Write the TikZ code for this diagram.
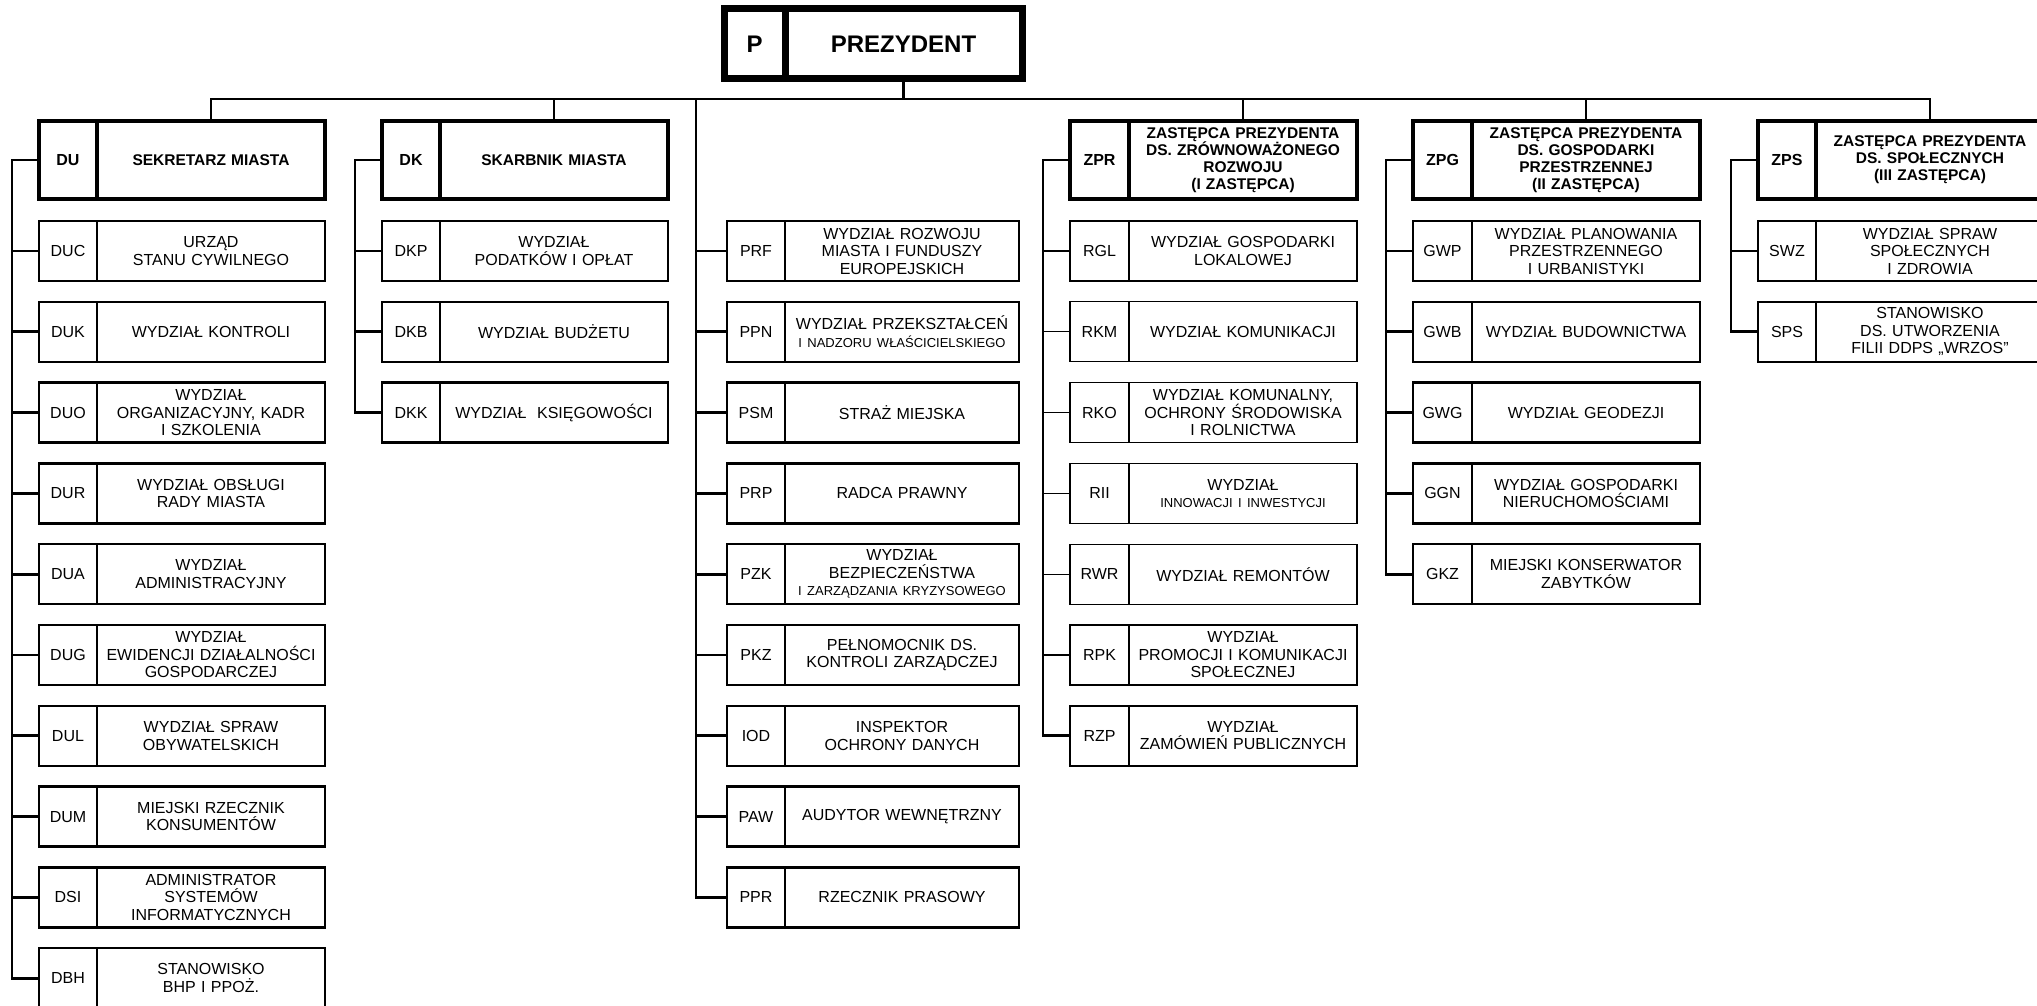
\documentclass[tikz,border=0pt]{standalone}
\usepackage{fontspec}
\setmainfont{Liberation Sans}
\usetikzlibrary{positioning}
\newcommand*\rowgap{80.8}
\newcommand*\spinegap{27}
\newcommand*\smalltxt[1]{{\fontsize{13}{14.5}\selectfont #1}}
\tikzset{
    cell/.style     = {draw, line width=2.4pt, minimum height=60pt,
                      inner sep=0pt, outer sep=0pt, align=center,
                      font=\fontsize{16}{17.5}\selectfont},
    codecell/.style = {cell, minimum width=58pt},
    namecell/.style = {cell, inner xsep=3pt, text width=222pt},
    headcode/.style = {codecell, line width=4.5pt, minimum height=78pt,
                      font=\bfseries\fontsize{16}{17.5}\selectfont},
    headname/.style = {namecell, line width=4.5pt, minimum height=78pt,
                      font=\bfseries\fontsize{15.5}{17}\selectfont},
    link/.style     = {line width=2.8pt},
    thinline/.style = {line width=1.2pt},
    plainline/.style= {},
  }
\begin{document}
\begin{tikzpicture}[x=1pt, y=-1pt]
    \fill[white] (0,0) rectangle (2037,1006);
    \useasboundingbox (0,0) rectangle (2037,1006);

    % President
    \node[headcode, line width=7pt, minimum width=61pt, minimum height=70pt,
          anchor=north west, font=\bfseries\fontsize{24}{28}\selectfont] (P) at (724,9) {P};
    \node[headname, line width=7pt, minimum height=70pt, text width=231pt,
          font=\bfseries\fontsize{24}{28}\selectfont, right=0pt of P] (P-n) {PREZYDENT};

    % Heads of the branches
    \node[headcode, anchor=north west] (DU) at (39,121) {DU};
    \node[headname, right=0pt of DU] (DU-n) {SEKRETARZ MIASTA};
    \node[headcode, anchor=north west] (DK) at (382,121) {DK};
    \node[headname, right=0pt of DK] (DK-n) {SKARBNIK MIASTA};
    \node[headcode, minimum width=59pt, anchor=north west] (ZPR) at (1070,121) {ZPR};
    \node[headname, right=0pt of ZPR] (ZPR-n) {ZASTĘPCA PREZYDENTA\\DS. ZRÓWNOWAŻONEGO\\ROZWOJU\\(I ZASTĘPCA)};
    \node[headcode, minimum width=59pt, anchor=north west] (ZPG) at (1413,121) {ZPG};
    \node[headname, right=0pt of ZPG] (ZPG-n) {ZASTĘPCA PREZYDENTA\\DS. GOSPODARKI\\PRZESTRZENNEJ\\(II ZASTĘPCA)};
    \node[headcode, anchor=north west] (ZPS) at (1758,121) {ZPS};
    \node[headname, right=0pt of ZPS] (ZPS-n) {ZASTĘPCA PREZYDENTA\\DS. SPOŁECZNYCH\\(III ZASTĘPCA)};

    % Bus from the president
    \draw[link] (P-n.south) -- ++(0,20);
    \draw[link] (DU-n.north) -- ++(0,-22) -| (ZPS-n.north);
    \foreach \h in {DK,ZPR,ZPG} {
        \draw[link] (\h-n.north) -- ++(0,-22);
    }
    \coordinate (bus3) at (696,99);

    % Sekretarz column
    \foreach \c/\t [count=\i from 0] in {
        DUC/{URZĄD\\STANU CYWILNEGO},
        DUK/{WYDZIAŁ KONTROLI},
        DUO/{WYDZIAŁ\\ORGANIZACYJNY, KADR\\I SZKOLENIA},
        DUR/{WYDZIAŁ OBSŁUGI\\RADY MIASTA},
        DUA/{WYDZIAŁ\\ADMINISTRACYJNY},
        DUG/{WYDZIAŁ\\EWIDENCJI DZIAŁALNOŚCI\\GOSPODARCZEJ},
        DUL/{WYDZIAŁ SPRAW\\OBYWATELSKICH},
        DUM/{MIEJSKI RZECZNIK\\KONSUMENTÓW},
        DSI/{ADMINISTRATOR\\SYSTEMÓW\\INFORMATYCZNYCH},
        DBH/{STANOWISKO\\BHP I PPOŻ.}} {
        \node[codecell, anchor=north west] (\c) at (39,{221+\i*\rowgap}) {\c};
        \node[namecell, right=0pt of \c] (\c-n) {\t};
        \draw[link] (\c.west) -- ++(-\spinegap,0);
    }
    \draw[link] (DU.west) -- ++(-\spinegap,0) |- (DBH.west);

    % Skarbnik column
    \foreach \c/\t [count=\i from 0] in {
        DKP/{WYDZIAŁ\\PODATKÓW I OPŁAT},
        DKB/{WYDZIAŁ BUDŻETU},
        DKK/{WYDZIAŁ\ \ KSIĘGOWOŚCI}} {
        \node[codecell, anchor=north west] (\c) at (382,{221+\i*\rowgap}) {\c};
        \node[namecell, right=0pt of \c] (\c-n) {\t};
        \draw[link] (\c.west) -- ++(-\spinegap,0);
    }
    \draw[link] (DK.west) -- ++(-\spinegap,0) |- (DKK.west);

    % Posts under the president
    \foreach \c/\t [count=\i from 0] in {
        PRF/{WYDZIAŁ ROZWOJU\\MIASTA I FUNDUSZY\\EUROPEJSKICH},
        PPN/{WYDZIAŁ PRZEKSZTAŁCEŃ\\\smalltxt{I NADZORU WŁAŚCICIELSKIEGO}},
        PSM/{STRAŻ MIEJSKA},
        PRP/{RADCA PRAWNY},
        PZK/{WYDZIAŁ\\BEZPIECZEŃSTWA\\\smalltxt{I ZARZĄDZANIA KRYZYSOWEGO}},
        PKZ/{PEŁNOMOCNIK DS.\\KONTROLI ZARZĄDCZEJ},
        IOD/{INSPEKTOR\\OCHRONY DANYCH},
        PAW/{AUDYTOR WEWNĘTRZNY},
        PPR/{RZECZNIK PRASOWY}} {
        \node[codecell, anchor=north west] (\c) at (727,{221+\i*\rowgap}) {\c};
        \node[namecell, text width=228pt, right=0pt of \c] (\c-n) {\t};
        \draw[link] (\c.west) -- ++(-31,0);
    }
    \draw[link] (bus3) |- (PPR.west);

    % I zastepca column
    \foreach \c/\t/\s [count=\i from 0] in {
        RGL/{WYDZIAŁ GOSPODARKI\\LOKALOWEJ}/plainline,
        RKM/{WYDZIAŁ KOMUNIKACJI}/thinline,
        RKO/{WYDZIAŁ KOMUNALNY,\\OCHRONY ŚRODOWISKA\\I ROLNICTWA}/thinline,
        RII/{WYDZIAŁ\\\smalltxt{INNOWACJI I INWESTYCJI}}/thinline,
        RWR/{WYDZIAŁ REMONTÓW}/thinline,
        RPK/{WYDZIAŁ\\PROMOCJI I KOMUNIKACJI\\SPOŁECZNEJ}/plainline,
        RZP/{WYDZIAŁ\\ZAMÓWIEŃ PUBLICZNYCH}/plainline} {
        \node[codecell, \s, minimum width=59pt, anchor=north west] (\c) at (1070,{221+\i*\rowgap}) {\c};
        \node[namecell, \s, right=0pt of \c] (\c-n) {\t};
        \draw[link, \s] (\c.west) -- ++(-\spinegap,0);
    }
    \draw[link] (ZPR.west) -- ++(-\spinegap,0) |- (RZP.west);

    % II zastepca column
    \foreach \c/\t [count=\i from 0] in {
        GWP/{WYDZIAŁ PLANOWANIA\\PRZESTRZENNEGO\\I URBANISTYKI},
        GWB/{WYDZIAŁ BUDOWNICTWA},
        GWG/{WYDZIAŁ GEODEZJI},
        GGN/{WYDZIAŁ GOSPODARKI\\NIERUCHOMOŚCIAMI},
        GKZ/{MIEJSKI KONSERWATOR\\ZABYTKÓW}} {
        \node[codecell, minimum width=59pt, anchor=north west] (\c) at (1413,{221+\i*\rowgap}) {\c};
        \node[namecell, right=0pt of \c] (\c-n) {\t};
        \draw[link] (\c.west) -- ++(-\spinegap,0);
    }
    \draw[link] (ZPG.west) -- ++(-\spinegap,0) |- (GKZ.west);

    % III zastepca column
    \foreach \c/\t [count=\i from 0] in {
        SWZ/{WYDZIAŁ SPRAW\\SPOŁECZNYCH\\I ZDROWIA},
        SPS/{STANOWISKO\\DS. UTWORZENIA\\FILII DDPS „WRZOS”}} {
        \node[codecell, anchor=north west] (\c) at (1758,{221+\i*\rowgap}) {\c};
        \node[namecell, right=0pt of \c] (\c-n) {\t};
        \draw[link] (\c.west) -- ++(-\spinegap,0);
    }
    \draw[link] (ZPS.west) -- ++(-\spinegap,0) |- (SPS.west);
\end{tikzpicture}
\end{document}
